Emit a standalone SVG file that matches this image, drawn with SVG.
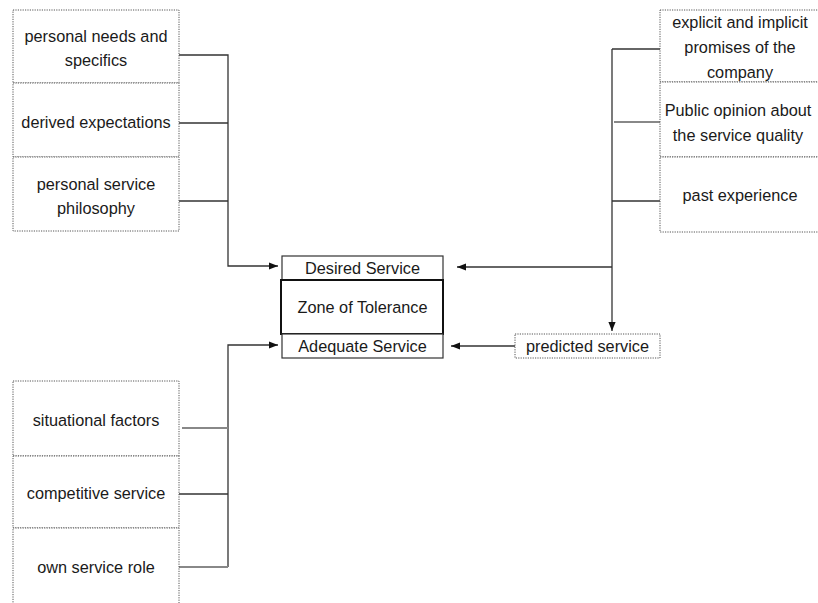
<svg xmlns="http://www.w3.org/2000/svg" width="818" height="603" viewBox="0 0 818 603">
  <defs>
    <marker id="arrow" viewBox="0 0 10 10" refX="10" refY="5" markerWidth="9" markerHeight="9" markerUnits="userSpaceOnUse" orient="auto">
      <path d="M0,1 L10,5 L0,9 Z" fill="#111"/>
    </marker>
  </defs>
  <style>
    text { font-family: "Liberation Sans", Arial, sans-serif; font-size: 16.3px; fill: #1a1a1a; text-anchor: middle; }
    .dot { fill: #fff; stroke: #555; stroke-width: 1; stroke-dasharray: 1.2 1.2; }
    .solid { fill: #fff; stroke: #333; stroke-width: 1.2; }
    .thick { fill: #fff; stroke: #111; stroke-width: 2; }
    .conn { fill: none; stroke: #333; stroke-width: 1.3; }
    .conn-light { fill: none; stroke: #888; stroke-width: 2; }
  </style>

  <rect width="818" height="603" fill="#fff"/>

  <!-- connectors -->
  <g id="connectors">
    <!-- left upper bracket -->
    <path class="conn" d="M179,55 H228 V266 H278" marker-end="url(#arrow)"/>
    <path class="conn" d="M179,123 H228"/>
    <path class="conn" d="M179,201 H228"/>
    <!-- left lower bracket -->
    <path class="conn" d="M228,567 V345 H278" marker-end="url(#arrow)"/>
    <path class="conn-light" d="M182,428 H228"/>
    <path class="conn" d="M179,494 H228"/>
    <path class="conn-light" d="M179,567 H228"/>
    <!-- right bracket -->
    <path class="conn" d="M612,49 V331" marker-end="url(#arrow)"/>
    <path class="conn" d="M612,267 H457" marker-end="url(#arrow)"/>
    <path class="conn" d="M612,49 H660"/>
    <path class="conn-light" d="M614,122 H660"/>
    <path class="conn" d="M612,201 H660"/>
    <!-- predicted to adequate -->
    <path class="conn" d="M515,346 H451" marker-end="url(#arrow)"/>
  </g>

  <!-- left upper group -->
  <g id="personal-needs">
    <rect class="dot" x="13" y="10" width="166" height="73"/>
    <text x="96" y="42">personal needs and</text>
    <text x="96" y="66">specifics</text>
  </g>
  <g id="derived-expectations">
    <rect class="dot" x="13" y="83" width="166" height="74"/>
    <text x="96" y="128">derived expectations</text>
  </g>
  <g id="personal-philosophy">
    <rect class="dot" x="13" y="157" width="166" height="74"/>
    <text x="96" y="190">personal service</text>
    <text x="96" y="214">philosophy</text>
  </g>

  <!-- right upper group -->
  <g id="promises">
    <rect class="dot" x="660" y="10" width="160" height="72"/>
    <text x="740" y="28">explicit and implicit</text>
    <text x="740" y="53">promises of the</text>
    <text x="740" y="78">company</text>
  </g>
  <g id="public-opinion">
    <rect class="dot" x="660" y="82" width="160" height="75"/>
    <text x="738" y="116">Public opinion about</text>
    <text x="738" y="141">the service quality</text>
  </g>
  <g id="past-experience">
    <rect class="dot" x="660" y="157" width="160" height="75"/>
    <text x="740" y="201">past experience</text>
  </g>

  <!-- centre -->
  <g id="desired-service">
    <rect class="solid" x="282" y="256" width="161" height="24"/>
    <text x="362.5" y="274">Desired Service</text>
  </g>
  <g id="zone-of-tolerance">
    <rect class="thick" x="281" y="280" width="162" height="54"/>
    <text x="362.5" y="313">Zone of Tolerance</text>
  </g>
  <g id="adequate-service">
    <rect class="solid" x="282" y="334" width="161" height="24"/>
    <text x="362.5" y="352">Adequate Service</text>
  </g>
  <g id="predicted-service">
    <rect class="dot" x="515" y="334" width="145" height="24"/>
    <text x="587.5" y="352">predicted service</text>
  </g>

  <!-- left lower group -->
  <g id="situational-factors">
    <rect class="dot" x="13" y="381" width="166" height="75"/>
    <text x="96" y="426">situational factors</text>
  </g>
  <g id="competitive-service">
    <rect class="dot" x="13" y="456" width="166" height="72"/>
    <text x="96" y="499">competitive service</text>
  </g>
  <g id="own-service-role">
    <rect class="dot" x="13" y="528" width="166" height="80"/>
    <text x="96" y="573">own service role</text>
  </g>
</svg>
